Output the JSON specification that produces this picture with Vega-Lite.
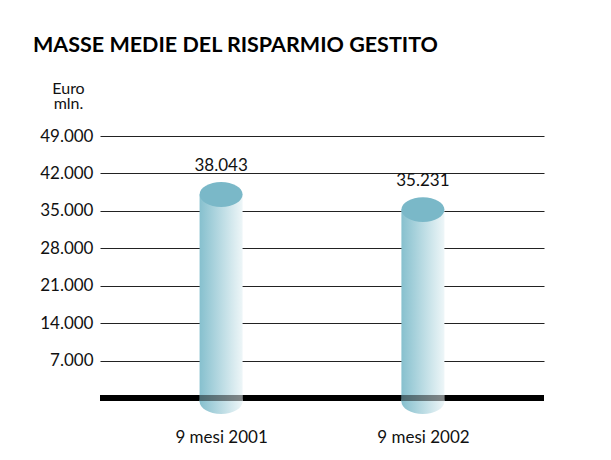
{
  "$schema": "https://vega.github.io/schema/vega-lite/v6.json",
  "width": 444,
  "height": 262,
  "autosize": {"type": "none"},
  "padding": {"left": 100, "top": 136, "right": 67, "bottom": 62},
  "background": "white",
  "title": {
    "text": "MASSE MEDIE DEL RISPARMIO GESTITO",
    "anchor": "start",
    "frame": "group",
    "font": "Lato",
    "fontSize": 21.5,
    "fontWeight": "bold",
    "color": "#000000",
    "dx": -67,
    "offset": 24
  },
  "data": {"values": [
    {"periodo": "9 mesi 2001", "valore": 38043},
    {"periodo": "9 mesi 2002", "valore": 35231}
  ]},
  "layer": [
    {
      "mark": {"type": "rule", "color": "#000000", "strokeWidth": 6, "strokeCap": "butt"},
      "encoding": {"y": {"datum": 0, "type": "quantitative", "scale": {"domain": [0, 49000], "nice": false},
        "axis": {"title": ["Euro", "mln."],
          "values": [7000, 14000, 21000, 28000, 35000, 42000, 49000], "format": ",d", "domain": false, "ticks": false, "tickSize": 0, "labelPadding": 7, "labelFont": "Lato", "labelFontSize": 17, "labelColor": "#111111", "grid": true, "gridColor": "#222222", "gridWidth": 1, "gridOpacity": 1}}}
    },
    {
      "mark": {"type": "bar", "width": 43, "clip": false,
        "fill": {"gradient": "linear", "x1": 0, "x2": 1, "y1": 0, "y2": 0, "stops": [{"offset": 0, "color": "#86c0ce"}, {"offset": 1, "color": "#eef6f8"}]}},
      "encoding": {
        "x": {"field": "periodo", "type": "nominal", "scale": {"type": "point", "padding": 0.6},
          "axis": {"title": null, "domain": false, "ticks": false, "tickSize": 0, "labelAngle": 0, "labelFont": "Lato", "labelFontSize": 17, "labelColor": "#111111", "labelBaseline": "alphabetic", "labelPadding": 44}},
        "y": {"field": "valore", "type": "quantitative"}, "y2": {"datum": -650}}
    },
    {
      "mark": {"type": "point", "filled": true, "opacity": 1, "size": 1849, "strokeWidth": 0,
        "shape": "M-1,0C-1,-0.32,-0.5523,-0.58,0,-0.58C0.5523,-0.58,1,-0.32,1,0C1,0.32,0.5523,0.58,0,0.58C-0.5523,0.58,-1,0.32,-1,0Z",
        "fill": {"gradient": "linear", "x1": 0, "x2": 1, "y1": 0, "y2": 0, "stops": [{"offset": 0, "color": "#86c0ce"}, {"offset": 1, "color": "#eef6f8"}]}},
      "encoding": {"x": {"field": "periodo", "type": "nominal"}, "y": {"datum": -650}}
    },
    {
      "mark": {"type": "bar", "width": 43, "fill": "#000000", "opacity": 0.45},
      "encoding": {"x": {"field": "periodo", "type": "nominal"}, "y": {"datum": -560}, "y2": {"datum": 560}}
    },
    {
      "mark": {"type": "point", "filled": true, "opacity": 1, "size": 1849, "strokeWidth": 0, "fill": "#7ab8c8",
        "shape": "M-1,0C-1,-0.32,-0.5523,-0.58,0,-0.58C0.5523,-0.58,1,-0.32,1,0C1,0.32,0.5523,0.58,0,0.58C-0.5523,0.58,-1,0.32,-1,0Z"},
      "encoding": {"x": {"field": "periodo", "type": "nominal"}, "y": {"field": "valore", "type": "quantitative"}}
    },
    {
      "mark": {"type": "text", "font": "Lato", "fontSize": 17, "color": "#111111", "baseline": "alphabetic", "dy": -24},
      "encoding": {"x": {"field": "periodo", "type": "nominal"}, "y": {"field": "valore", "type": "quantitative"}, "text": {"field": "valore", "type": "quantitative", "format": ",d"}}
    }
  ],
  "config": {
    "view": {"stroke": null},
    "axisY": {"titleAngle": 0, "titleAlign": "center", "titleBaseline": "alphabetic", "titleX": -32, "titleY": -43, "titleFont": "Lato", "titleFontSize": 16, "titleFontWeight": "normal", "titleColor": "#111111", "titleLineHeight": 15},
    "locale": {"number": {"decimal": ",", "thousands": ".", "grouping": [3], "currency": ["", " €"]}}
  }
}
